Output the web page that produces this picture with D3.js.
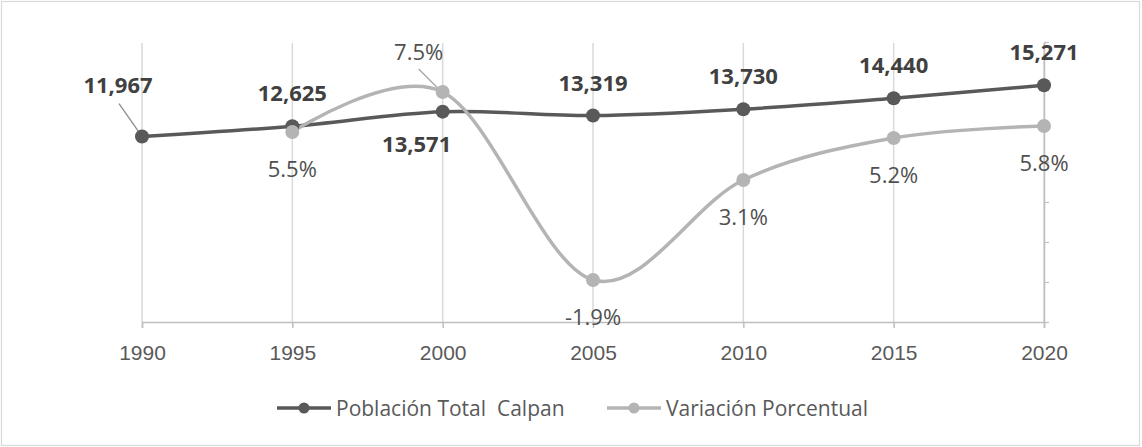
<!DOCTYPE html>
<html>
<head>
<meta charset="utf-8">
<script src="https://cdn.jsdelivr.net/npm/d3@7"></script>
<style>
  body { margin: 0; background: #fff; }
  svg { display: block; font-family: "Open Sans", "Noto Sans", sans-serif; }
</style>
</head>
<body>
<svg id="chart" width="1142" height="447"></svg>
<script>
// data
var years = ["1990", "1995", "2000", "2005", "2010", "2015", "2020"];
var poblacion = [11967, 12625, 13571, 13319, 13730, 14440, 15271];
var variacion = [null, 5.5, 7.5, -1.9, 3.1, 5.2, 5.8];
var seriesNames = ["Población Total  Calpan", "Variación Porcentual"];
var pctTicks = [-4, -2, 0, 2, 4, 6, 8, 10];

var darkCol = "#595959",
    lightCol = "#b4b4b4",
    textCol = "#595959",
    gridCol = "#d9d9d9",
    axisCol = "#bfbfbf";

var svg = d3.select("#chart");
var width = +svg.attr("width"),
    height = +svg.attr("height");

// outer frame
svg.append("rect")
    .attr("x", 1.5).attr("y", 1.5)
    .attr("width", width - 4).attr("height", height - 3)
    .attr("fill", "#fff")
    .attr("stroke", gridCol)
    .attr("stroke-width", 1.2);

var x = d3.scalePoint().domain(years).range([142, 1044]);
var yPob = d3.scaleLinear().domain([0, 18000]).range([322, 43]);
var yPct = d3.scaleLinear().domain([-4, 10]).range([322, 42]);

// vertical gridlines
svg.append("g")
    .selectAll("line")
    .data(years)
    .enter().append("line")
    .attr("x1", function(d) { return x(d); })
    .attr("x2", function(d) { return x(d); })
    .attr("y1", yPob.range()[1])
    .attr("y2", yPob.range()[0])
    .attr("stroke", gridCol)
    .attr("stroke-width", 1.5);

// bottom axis
var xAxis = svg.append("g")
    .attr("transform", "translate(0," + yPob(0) + ")")
    .call(d3.axisBottom(x).tickSize(6).tickPadding(17));
xAxis.select(".domain").attr("stroke", axisCol).attr("stroke-width", 1.5);
xAxis.selectAll(".tick line").attr("stroke", axisCol).attr("stroke-width", 1.5);
xAxis.selectAll(".tick text")
    .attr("fill", textCol)
    .style("font-size", "21px");

// secondary (right) axis, no labels
var rAxis = svg.append("g")
    .attr("transform", "translate(" + x("2020") + ",0)")
    .call(d3.axisRight(yPct).tickValues(pctTicks).tickSize(5).tickSizeOuter(0).tickFormat(""));
rAxis.select(".domain").attr("stroke", axisCol).attr("stroke-width", 1.5);
rAxis.selectAll(".tick line").attr("stroke", axisCol).attr("stroke-width", 1.2);

// lines
var pobPts = years.map(function(y, i) { return { year: y, v: poblacion[i], i: i }; });
var pctPts = years.map(function(y, i) { return { year: y, v: variacion[i], i: i }; })
    .filter(function(d) { return d.v !== null; });

var linePob = d3.line()
    .x(function(d) { return x(d.year); })
    .y(function(d) { return yPob(d.v); })
    .curve(d3.curveCardinal.tension(0));

var linePct = d3.line()
    .x(function(d) { return x(d.year); })
    .y(function(d) { return yPct(d.v); })
    .curve(d3.curveCardinal.tension(0));

svg.append("path")
    .datum(pobPts)
    .attr("d", linePob)
    .attr("fill", "none")
    .attr("stroke", darkCol)
    .attr("stroke-width", 3.5);

svg.append("path")
    .datum(pctPts)
    .attr("d", linePct)
    .attr("fill", "none")
    .attr("stroke", lightCol)
    .attr("stroke-width", 3.5);

// leader lines for moved labels
svg.append("line")
    .attr("x1", x("1990") - 23).attr("y1", yPob(poblacion[0]) - 33)
    .attr("x2", x("1990") - 2).attr("y2", yPob(poblacion[0]) - 3)
    .attr("stroke", "#8c8c8c").attr("stroke-width", 1.3);
svg.append("line")
    .attr("x1", x("2000") - 24).attr("y1", yPct(variacion[2]) - 23)
    .attr("x2", x("2000") - 3).attr("y2", yPct(variacion[2]) - 2)
    .attr("stroke", "#a6a6a6").attr("stroke-width", 1.3);

// markers
svg.append("g")
    .selectAll("circle")
    .data(pobPts)
    .enter().append("circle")
    .attr("cx", function(d) { return x(d.year); })
    .attr("cy", function(d) { return yPob(d.v); })
    .attr("r", 7)
    .attr("fill", darkCol);

svg.append("g")
    .selectAll("circle")
    .data(pctPts)
    .enter().append("circle")
    .attr("cx", function(d) { return x(d.year); })
    .attr("cy", function(d) { return yPct(d.v); })
    .attr("r", 7)
    .attr("fill", lightCol);

// data labels
var fmtPob = d3.format(",");
var fmtPct = function(v) { return d3.format(".1f")(v).replace("−", "-") + "%"; };

svg.append("g")
    .selectAll("text")
    .data(pobPts)
    .enter().append("text")
    .attr("x", function(d) {
        if (d.i === 0) return x(d.year) - 24;
        if (d.i === 2) return x(d.year) - 26;
        return x(d.year);
    })
    .attr("y", function(d) {
        if (d.i === 0) return yPob(d.v) - 44;
        if (d.i === 2) return yPob(d.v) + 40;
        return yPob(d.v) - 25;
    })
    .attr("text-anchor", "middle")
    .attr("fill", "#404040")
    .style("font-size", "22px")
    .style("font-weight", "bold")
    .text(function(d) { return fmtPob(d.v); });

svg.append("g")
    .selectAll("text")
    .data(pctPts)
    .enter().append("text")
    .attr("x", function(d) {
        if (d.i === 2) return x(d.year) - 24;
        return x(d.year);
    })
    .attr("y", function(d) {
        if (d.i === 2) return yPct(d.v) - 32;
        return yPct(d.v) + 45;
    })
    .attr("text-anchor", "middle")
    .attr("fill", "#505050")
    .style("font-size", "22px")
    .text(function(d) { return fmtPct(d.v); });

// legend
var legendItems = [
    { name: seriesNames[0], color: darkCol, x: 277 },
    { name: seriesNames[1], color: lightCol, x: 607 }
];
var lg = svg.append("g").selectAll("g")
    .data(legendItems)
    .enter().append("g")
    .attr("transform", function(d) { return "translate(" + d.x + ",408)"; });
lg.append("line")
    .attr("x1", 0).attr("x2", 54)
    .attr("stroke", function(d) { return d.color; })
    .attr("stroke-width", 3.5);
lg.append("circle")
    .attr("cx", 27).attr("r", 5.5)
    .attr("fill", function(d) { return d.color; });
lg.append("text")
    .attr("x", 59).attr("y", 8)
    .attr("fill", textCol)
    .style("font-size", "21px")
    .style("white-space", "pre")
    .attr("xml:space", "preserve")
    .text(function(d) { return d.name; });
</script>
</body>
</html>
